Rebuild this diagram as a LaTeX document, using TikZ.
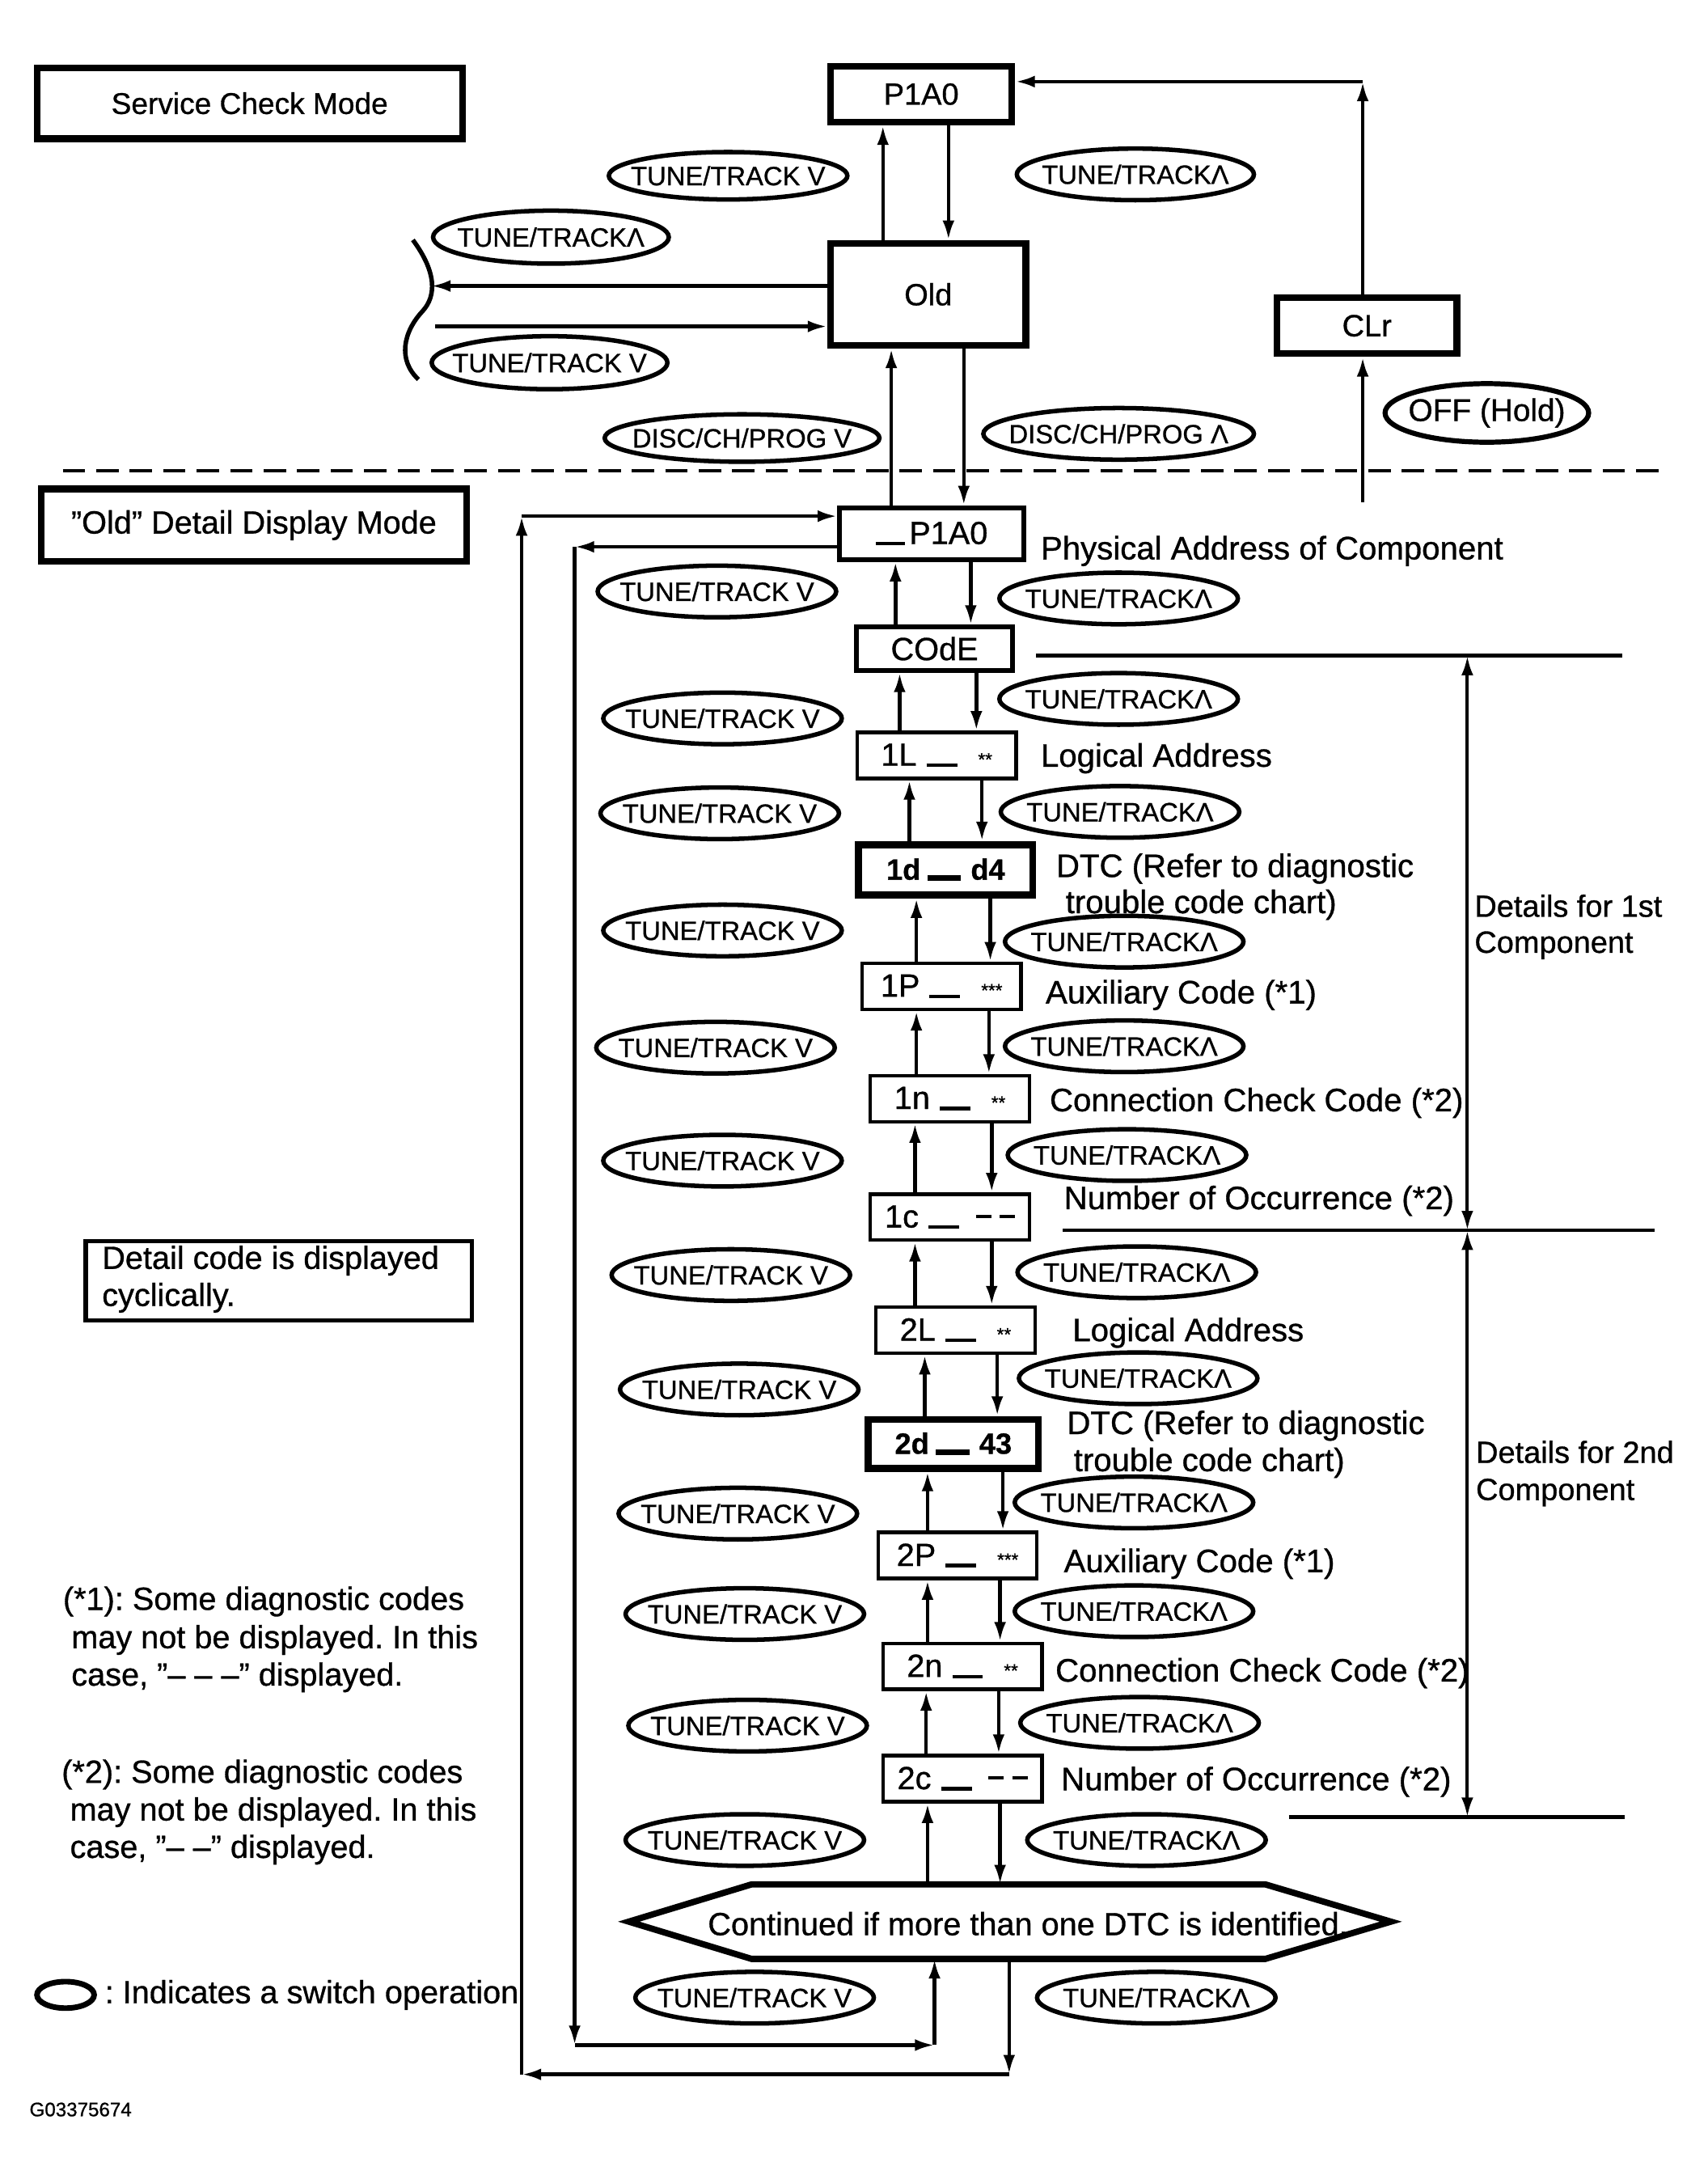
\documentclass[tikz,border=0pt]{standalone}
\usepackage{fontspec}
\setmainfont{Liberation Sans}[FakeBold=0.8]
\usetikzlibrary{arrows.meta,shapes.geometric}
\newcommand{\mybar}[2]{\rule[-1pt]{#1}{#2}}
\newcommand{\mydashes}{\rule[7pt]{11pt}{2.2pt}\hspace{6pt}\rule[7pt]{11pt}{2.2pt}}
\newcommand{\myast}[1]{{\fontsize{13}{13}\selectfont #1}}
\newcommand{\myTTV}{\makebox[0pt]{TUNE/TRACK\hspace{0.28em}V}}
\newcommand{\myTTL}{\makebox[0pt]{TUNE/TRACKΛ}}
\frenchspacing
\begin{document}
\begin{tikzpicture}[x=1pt,y=-1pt,
 arr/.style={line width=2.6pt, -{Latex[length=14pt,width=8.5pt]}},
 dbarr/.style={line width=2.4pt, {Latex[length=14pt,width=8.5pt]}-{Latex[length=14pt,width=8.5pt]}},
 plain/.style={line width=2.6pt},
 topbox/.style={draw, line width=4.8pt, inner sep=0pt, font=\fontsize{22}{22}\selectfont},
 tbox/.style={draw, line width=3.5pt, inner sep=0pt, font=\fontsize{23}{23}\selectfont},
 dbox/.style={draw, line width=2.5pt, inner sep=0pt, minimum width=114pt, minimum height=33pt, font=\fontsize{23}{23}\selectfont},
 sw/.style={ellipse, draw, line width=3.2pt, inner sep=0pt, minimum width=171pt, minimum height=37pt, font=\fontsize{19}{19}\selectfont},
 lbl/.style={anchor=base west, inner sep=0pt, font=\fontsize{23.3}{23.3}\selectfont},
 note/.style={anchor=base west, inner sep=0pt, font=\fontsize{23}{23}\selectfont},
 side/.style={anchor=base west, inner sep=0pt, font=\fontsize{22}{22}\selectfont}]
\fill[white] (0,0) rectangle (1224,1562);
\path[use as bounding box] (0,0) rectangle (1224,1562);

% ---------- top section ----------
\node[topbox, minimum width=305pt, minimum height=51pt, font=\fontsize{21.5}{21.5}\selectfont] (scm) at (179,74) {Service Check Mode};
\node[topbox, minimum width=130pt, minimum height=40pt] (p1a0) at (660.5,67.5) {P1A0};
\node[topbox, minimum width=140pt, minimum height=73pt] (old) at (665.5,211) {Old};
\node[topbox, minimum width=129pt, minimum height=40pt] (clr) at (980,233.5) {CLr};

\node[sw, minimum height=34pt] (tv1) at (522,126) {\myTTV};
\node[sw, minimum width=170pt] (tl1) at (814,125) {\myTTL};
\node[sw, minimum width=169pt, minimum height=38pt] (tl0) at (395,170) {\myTTL};
\node[sw, minimum width=169pt, minimum height=38pt] (tv0) at (394,260) {\myTTV};
\node[sw, minimum width=197pt, minimum height=34pt] (dv) at (532,314) {\makebox[0pt]{DISC/CH/PROG\hspace{0.28em}V}};
\node[sw, minimum width=194pt, minimum height=37pt] (dl) at (802,311) {\makebox[0pt]{DISC/CH/PROG\hspace{0.28em}Λ}};
\node[ellipse, draw, line width=3.6pt, inner sep=0pt, minimum width=146pt, minimum height=42pt, font=\fontsize{22.5}{22.5}\selectfont] (off) at (1066,296) {\makebox[0pt]{OFF (Hold)}};

\draw[arr] (old.north -| 633,0) -- (p1a0.south -| 633,0);
\draw[arr] (p1a0.south -| 680,0) -- (old.north -| 680,0);

\coordinate (bl) at (309,205);
\coordinate (br) at (312,234);
\draw[arr] (old.west |- bl) -- (bl);
\draw[arr] (br) -- (old.west |- br);
\draw[line width=3.2pt] (296,172) .. controls (313,195) and (313,212) .. (303,223) .. controls (289,238) and (285,258) .. (300,272);

\coordinate (cc) at (977,58.5);
\coordinate (cb) at (977,360);
\draw[arr] (clr.north -| cc) -- (cc);
\draw[arr] (cc) -- (p1a0.east |- cc);
\draw[arr] (cb) -- (clr.south -| cb);

\coordinate (dl1) at (45,337.5);
\coordinate (dl2) at (1195,337.5);
\draw[line width=2.5pt, dash pattern=on 16pt off 8pt] (dl1) -- (dl2);

% ---------- detail section ----------
\node[topbox, minimum width=305pt, minimum height=52pt, font=\fontsize{23}{23}\selectfont] (odm) at (182,376.5) {”Old” Detail Display Mode};

\node[tbox, minimum width=132pt, minimum height=37pt] (pa) at (668,382.5) {\mybar{21pt}{2.5pt}\hspace{3pt}P1A0};
\node[dbox, line width=3.3pt, minimum width=112pt, minimum height=31pt] (code) at (670,465) {COdE};
\node[dbox] (l1) at (671.5,541.5) {1L\hspace{7pt}\mybar{22pt}{2.5pt}\hspace{15pt}\myast{**}};
\node[tbox, line width=5pt, minimum width=125pt, minimum height=36pt, font=\fontsize{21}{21}\selectfont\bfseries] (d1) at (678,623.5) {1d\hspace{5pt}\mybar{24pt}{4pt}\hspace{7pt}d4};
\node[dbox] (p1) at (675,707) {1P\hspace{7pt}\mybar{22pt}{2.5pt}\hspace{15pt}\myast{***}};
\node[dbox] (n1) at (681,787.5) {1n\hspace{7pt}\mybar{22pt}{2.5pt}\hspace{15pt}\myast{**}};
\node[dbox] (c1) at (681,872.5) {1c\hspace{7pt}\mybar{22pt}{2.5pt}\hspace{12pt}\mydashes};
\node[dbox] (l2) at (685,953.5) {2L\hspace{7pt}\mybar{22pt}{2.5pt}\hspace{15pt}\myast{**}};
\node[tbox, line width=5pt, minimum width=122pt, minimum height=35pt, font=\fontsize{21}{21}\selectfont\bfseries] (d2) at (683.5,1035) {2d\hspace{5pt}\mybar{24pt}{4pt}\hspace{7pt}43};
\node[dbox] (p2) at (686.5,1115) {2P\hspace{7pt}\mybar{22pt}{2.5pt}\hspace{15pt}\myast{***}};
\node[dbox] (n2) at (690,1194.5) {2n\hspace{7pt}\mybar{22pt}{2.5pt}\hspace{15pt}\myast{**}};
\node[dbox] (c2) at (690,1275) {2c\hspace{7pt}\mybar{22pt}{2.5pt}\hspace{12pt}\mydashes};

\node[inner sep=0pt, minimum width=368pt, minimum height=53pt] (hex) at (723,1377.5) {};
\draw[line width=4.5pt] (hex.north west) -- (hex.north east) -- ([xshift=90pt]hex.east) -- (hex.south east) -- (hex.south west) -- ([xshift=-88pt]hex.west) -- cycle;
\node[inner sep=0pt, font=\fontsize{23}{23}\selectfont] (hext) at (737,1379) {Continued if more than one DTC is identified.};

% switch ellipses
\foreach \x/\y [count=\i] in {514/424, 518/515, 516/583, 518/667, 513/751, 518/832, 524/914, 530/996, 529/1085, 534/1157, 536/1237, 534/1319, 541/1432}
  \node[sw] (lv\i) at (\x,\y) {\myTTV};
\foreach \x/\y [count=\i] in {802/429, 802/501, 803/582, 806/675, 806/750, 808/828, 815/912, 816/988, 813/1077, 813/1155, 817/1235, 822/1319, 829/1432}
  \node[sw] (rl\i) at (\x,\y) {\myTTL};

% arrows between display boxes
\foreach \a/\b/\xu/\xd in {pa/code/642/696, code/l1/645/700, l1/d1/652/704, d1/p1/657/710, p1/n1/657/709, n1/c1/656/711, c1/l2/656/711, l2/d2/663/715, d2/p2/665/719, p2/n2/665/717, n2/c2/664/716, c2/hex/665/717}{
  \draw[arr] (\b.north -| \xu,0) -- (\a.south -| \xu,0);
  \draw[arr] (\a.south -| \xd,0) -- (\b.north -| \xd,0);
}
\draw[arr] (pa.north -| 639,0) -- (old.south -| 639,0);
\draw[arr] (old.south -| 691,0) -- (pa.north -| 691,0);

% inner loop
\coordinate (it) at (412,392);
\coordinate (ib) at (412,1466);
\coordinate (ic) at (670,1466);
\draw[arr] (pa.west |- it) -- (it);
\draw[arr] (it) -- (ib);
\draw[arr] (ib) -- (ic);
\draw[arr] (ic) -- (hex.south -| ic);

% outer loop
\coordinate (oc) at (723.5,1487);
\coordinate (ob) at (374,1487);
\coordinate (ot) at (374,370);
\draw[arr] (hex.south -| oc) -- (oc);
\draw[arr] (oc) -- (ob);
\draw[arr] (ob) -- (ot);
\draw[arr] (ot) -- (pa.west |- ot);

% labels
\node[lbl] (lab1) at (746,401) {Physical Address of Component};
\node[lbl] (lab2) at (746,549.6) {Logical Address};
\node[lbl] (lab3) at (757,628.7) {DTC (Refer to diagnostic};
\node[lbl] (lab4) at (763.8,654.6) {trouble code chart)};
\node[lbl] (lab5) at (749.5,719.3) {Auxiliary Code (*1)};
\node[lbl] (lab6) at (752.4,796.6) {Connection Check Code (*2)};
\node[lbl] (lab7) at (762.6,866.8) {Number of Occurrence (*2)};
\node[lbl] (lab8) at (768.8,961.4) {Logical Address};
\node[lbl] (lab9) at (764.8,1028) {DTC (Refer to diagnostic};
\node[lbl] (lab10) at (769.6,1054.6) {trouble code chart)};
\node[lbl] (lab11) at (762.6,1127) {Auxiliary Code (*1)};
\node[lbl] (lab12) at (756.5,1205.4) {Connection Check Code (*2)};
\node[lbl] (lab13) at (760.6,1283.3) {Number of Occurrence (*2)};

% right brackets
\coordinate (h1a) at (743,470);   \coordinate (h1b) at (1163,470);
\coordinate (h2a) at (762,882);   \coordinate (h2b) at (1186,882);
\coordinate (h3a) at (924,1302.6); \coordinate (h3b) at (1165,1302.6);
\draw[plain] (h1a) -- (h1b);
\draw[plain] (h2a) -- (h2b);
\draw[plain] (h3a) -- (h3b);
\draw[dbarr] (h1a -| 1052,0) -- (h2a -| 1052,0);
\draw[dbarr] (h2a -| 1052,0) -- (h3a -| 1052,0);
\node[side] (s1a) at (1057,657.2) {Details for 1st};
\node[side] (s1b) at (1057,683) {Component};
\node[side] (s2a) at (1058,1048.7) {Details for 2nd};
\node[side] (s2b) at (1058,1075.3) {Component};

% left notes
\node[draw, line width=3pt, inner sep=0pt, minimum width=277pt, minimum height=57pt] (detbox) at (200,918) {};
\node[note] (det1) at (73,909.6) {Detail code is displayed};
\node[note] (det2) at (73,936.2) {cyclically.};

\node[note] (n1a) at (45,1154) {(*1): Some diagnostic codes};
\node[note] (n1b) at (51,1181.5) {may not be displayed. In this};
\node[note] (n1c) at (51,1208.3) {case, ”– – –” displayed.};
\node[note] (n2a) at (44,1278) {(*2): Some diagnostic codes};
\node[note] (n2b) at (50,1305) {may not be displayed. In this};
\node[note] (n2c) at (50,1331.8) {case, ”– –” displayed.};

\node[ellipse, draw, line width=4pt, inner sep=0pt, minimum width=41pt, minimum height=19pt] (leg) at (47,1430) {};
\node[note] (legt) at (75,1436) {: Indicates a switch operation};

\node[anchor=base west, inner sep=0pt, font=\fontsize{14}{14}\selectfont] (gid) at (21,1517) {G03375674};
\end{tikzpicture}
\end{document}
